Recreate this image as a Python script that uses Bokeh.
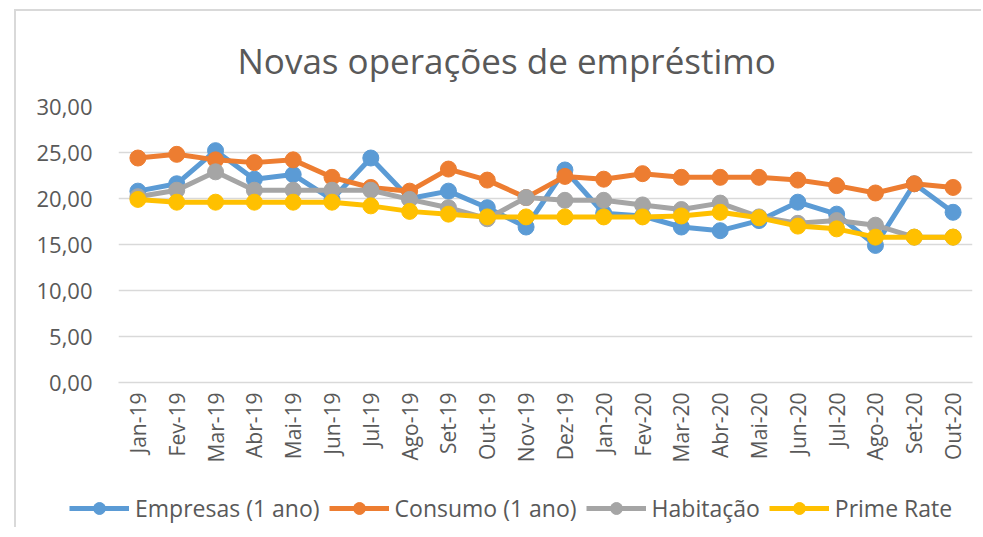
from bokeh.plotting import figure
from bokeh.layouts import column
from bokeh.models import Range1d, Legend, LegendItem, FixedTicker
from bokeh.embed import file_html
from bokeh.resources import INLINE
import math

months = ["Jan-19", "Fev-19", "Mar-19", "Abr-19", "Mai-19", "Jun-19", "Jul-19", "Ago-19",
          "Set-19", "Out-19", "Nov-19", "Dez-19", "Jan-20", "Fev-20", "Mar-20", "Abr-20",
          "Mai-20", "Jun-20", "Jul-20", "Ago-20", "Set-20", "Out-20"]

empresas = [20.8, 21.6, 25.2, 22.1, 22.6, 19.9, 24.4, 20.0, 20.8, 19.0, 16.9, 23.1,
            18.4, 18.1, 16.9, 16.5, 17.6, 19.6, 18.3, 14.9, 21.6, 18.5]
consumo = [24.4, 24.8, 24.2, 23.9, 24.2, 22.3, 21.2, 20.8, 23.2, 22.0, 20.1, 22.4,
           22.1, 22.7, 22.3, 22.3, 22.3, 22.0, 21.4, 20.6, 21.6, 21.2]
habitacao = [20.2, 20.9, 22.9, 20.9, 20.9, 20.9, 20.9, 19.9, 19.0, 17.8, 20.1, 19.8,
             19.8, 19.3, 18.8, 19.5, 18.0, 17.3, 17.6, 17.1, 15.8, 15.8]
prime = [19.9, 19.6, 19.6, 19.6, 19.6, 19.6, 19.2, 18.6, 18.3, 18.0, 18.0, 18.0,
         18.0, 18.0, 18.1, 18.5, 17.9, 17.0, 16.7, 15.8, 15.8, 15.8]

series_names = ["Empresas (1 ano)", "Consumo (1 ano)", "Habitação", "Prime Rate"]
series_values = [empresas, consumo, habitacao, prime]
series_colors = ["#5B9BD5", "#ED7D31", "#A5A5A5", "#FFC000"]

y_ticks = [0, 5, 10, 15, 20, 25, 30]
y_tick_labels = ["0,00", "5,00", "10,00", "15,00", "20,00", "25,00", "30,00"]

title_text = "Novas operações de empréstimo"

p = figure(x_range=months, y_range=Range1d(0, 30), width=965, height=466,
           output_backend="svg", toolbar_location=None, frame_align=False,
           min_border_left=102, min_border_right=9, min_border_top=95, min_border_bottom=95)

p.outline_line_color = None
p.background_fill_color = "white"
p.border_fill_color = "white"

p.title.text = title_text
p.title.align = "left"
p.title.offset = 119
p.title.text_font = "Open Sans"
p.title.text_font_size = "35px"
p.title.text_font_style = "normal"
p.title.text_color = "#595959"
p.title.standoff = 46

p.xgrid.grid_line_color = None
p.ygrid.grid_line_color = "#d9d9d9"
p.ygrid.grid_line_width = 1.5

p.yaxis.ticker = FixedTicker(ticks=y_ticks)
p.yaxis.major_label_overrides = {t: l for t, l in zip(y_ticks, y_tick_labels)}
p.yaxis.axis_line_color = None
p.yaxis.major_tick_line_color = None
p.yaxis.minor_tick_line_color = None
p.yaxis.major_label_text_font = "Open Sans"
p.yaxis.major_label_text_font_size = "22px"
p.yaxis.major_label_text_color = "#595959"
p.yaxis.major_label_standoff = 20

p.xaxis.axis_line_color = "#d9d9d9"
p.xaxis.axis_line_width = 1.5
p.xaxis.major_tick_line_color = None
p.xaxis.minor_tick_line_color = None
p.xaxis.major_label_orientation = math.pi / 2
p.xaxis.major_label_text_font = "Open Sans"
p.xaxis.major_label_text_font_size = "21px"
p.xaxis.major_label_text_color = "#595959"
p.xaxis.major_label_standoff = 4

for vals, col in zip(series_values, series_colors):
    p.line(months, vals, line_color=col, line_width=5)
    p.scatter(months, vals, marker="circle", size=16, fill_color=col, line_color=col)

# legend strip below the chart (same series, drawn out of view so only the legend shows)
p_leg = figure(x_range=months, y_range=Range1d(100, 101), width=965, height=50,
               output_backend="svg", toolbar_location=None, frame_align=False,
               min_border=0, min_border_left=0, min_border_right=0)
p_leg.outline_line_color = None
p_leg.axis.visible = False
p_leg.grid.visible = False
items = []
for name, vals, col in zip(series_names, series_values, series_colors):
    ln = p_leg.line(months, vals, line_color=col, line_width=5)
    sc = p_leg.scatter(months, vals, marker="circle", size=16, fill_color=col, line_color=col)
    items.append(LegendItem(label=name, renderers=[ln, sc]))

legend = Legend(items=items, orientation="horizontal", location=(53, 3),
                glyph_width=60, glyph_height=30, label_standoff=6, spacing=9,
                label_text_font="Open Sans", label_text_font_size="23px",
                label_text_color="#595959", border_line_color=None,
                background_fill_alpha=0, padding=4, margin=0)
p_leg.add_layout(legend, "center")

layout = column(p, p_leg, spacing=0, margin=(9, 0, 0, 14),
                styles={"border-left": "2px solid #d9d9d9", "border-top": "2px solid #d9d9d9"})

open("out.html", "w").write(file_html(layout, INLINE))
